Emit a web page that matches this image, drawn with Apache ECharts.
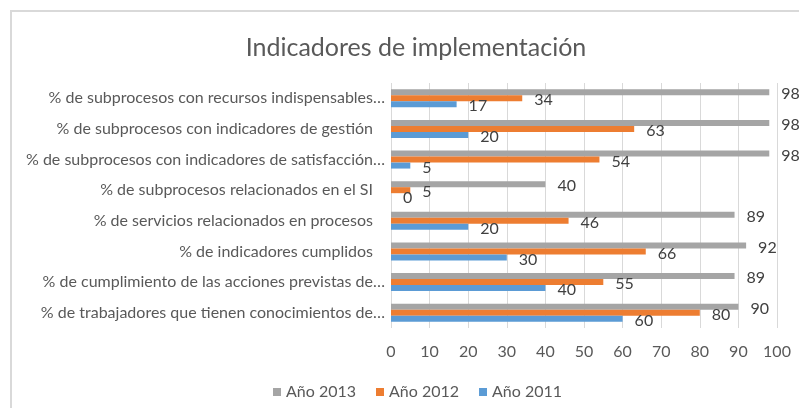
<!DOCTYPE html>
<html>
<head>
<meta charset="utf-8">
<script src="https://cdn.jsdelivr.net/npm/echarts@6/dist/echarts.min.js"></script>
<style>
  html, body { margin: 0; padding: 0; background: #fff; }
  #main { width: 799px; height: 408px; }
</style>
</head>
<body>
<div id="main"></div>
<script>
// categorias, de abajo hacia arriba
var categorias = [
    '% de trabajadores que tienen conocimientos de…',
    '% de cumplimiento de las acciones previstas de…',
    '% de indicadores cumplidos',
    '% de servicios relacionados en procesos',
    '% de subprocesos relacionados en el SI',
    '% de subprocesos con indicadores de satisfacción…',
    '% de subprocesos con indicadores de gestión',
    '% de subprocesos con recursos indispensables…'
];
var anio2011 = [60, 40, 30, 20, 0, 5, 20, 17];
var anio2012 = [80, 55, 66, 46, 5, 54, 63, 34];
var anio2013 = [90, 89, 92, 89, 40, 98, 98, 98];
var ticksX = [0, 10, 20, 30, 40, 50, 60, 70, 80, 90, 100];

var colores = ['#5B9BD5', '#ED7D31', '#A5A5A5'];
var fuente = 'Lato';

var myChart = echarts.init(document.getElementById('main'));

function serie(nombre, datos, color) {
    return {
        name: nombre,
        type: 'bar',
        data: datos,
        barWidth: 6,
        barGap: '0%',
        itemStyle: { color: color },
        label: {
            show: true,
            position: 'right',
            distance: 12,
            color: '#404040',
            fontSize: 16,
            fontFamily: fuente,
            offset: [0, 2]
        }
    };
}

var option = {
    animation: false,
    textStyle: { fontFamily: fuente },
    title: {
        text: 'Indicadores de implementación',
        left: 411,
        textAlign: 'center',
        top: 30,
        textStyle: { fontSize: 25, fontWeight: 'normal', color: '#595959', fontFamily: fuente }
    },
    legend: {
        data: ['Año 2013', 'Año 2012', 'Año 2011'],
        left: 268,
        top: 379,
        itemWidth: 8,
        itemHeight: 8,
        itemGap: 20,
        icon: 'rect',
        textStyle: { fontSize: 16, color: '#595959', fontFamily: fuente }
    },
    grid: { left: 391, right: 22, top: 83, bottom: 80, containLabel: false },
    xAxis: {
        type: 'value',
        min: ticksX[0],
        max: ticksX[ticksX.length - 1],
        interval: 10,
        axisLine: { show: false },
        axisTick: { show: false },
        splitLine: { lineStyle: { color: '#D9D9D9' } },
        axisLabel: { color: '#595959', fontSize: 16, margin: 16, fontFamily: fuente }
    },
    yAxis: {
        type: 'category',
        data: categorias,
        axisLine: { show: false },
        axisTick: { show: false },
        axisLabel: {
            color: '#595959',
            fontSize: 16,
            margin: 6,
            fontFamily: fuente,
            formatter: function (v) {
                return v.slice(-1) === '…' ? v : '{p|' + v + '}';
            },
            rich: {
                p: { padding: [0, 12, 0, 0], fontSize: 16, color: '#595959', fontFamily: fuente }
            }
        }
    },
    graphic: [{
        type: 'rect',
        shape: { x: 11, y: 11, width: 900, height: 500 },
        style: { fill: 'none', stroke: '#D9D9D9', lineWidth: 2 },
        silent: true
    }],
    series: [
        serie('Año 2013', anio2013, colores[2]),
        serie('Año 2012', anio2012, colores[1]),
        serie('Año 2011', anio2011, colores[0])
    ]
};

myChart.setOption(option);
</script>
</body>
</html>
